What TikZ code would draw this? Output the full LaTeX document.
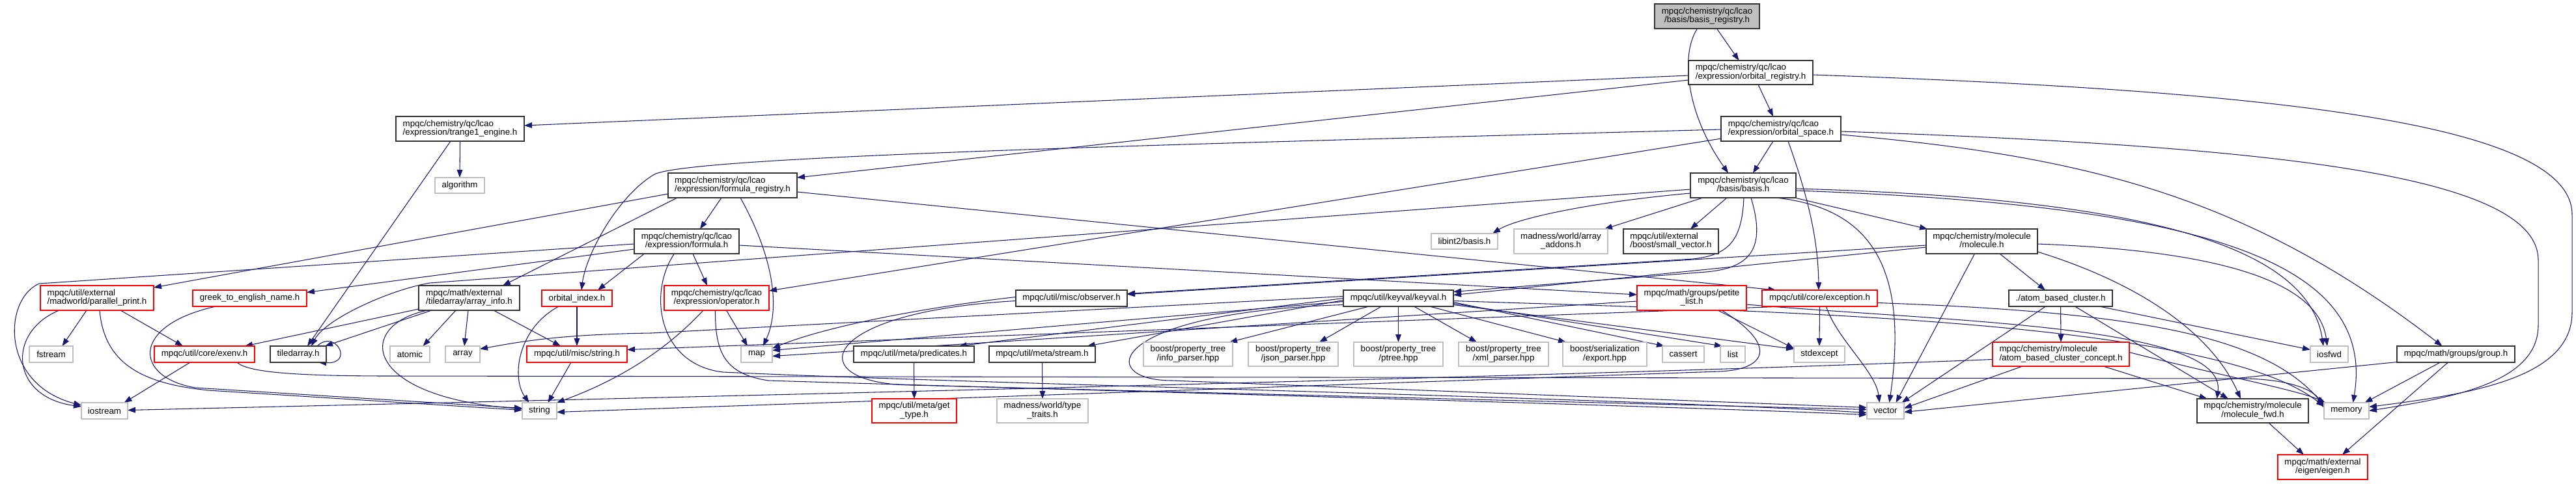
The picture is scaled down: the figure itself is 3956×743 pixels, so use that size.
\documentclass[tikz,border=0pt]{standalone}
\usepackage{fontspec}
\setmainfont{Liberation Sans}
\usetikzlibrary{arrows.meta,calc}
\definecolor{eblue}{HTML}{191970}
\pgfdeclarelayer{bg}
\pgfsetlayers{bg,main}
\newcommand\twol[2]{\begin{tabular}{@{}l@{}}#1\\\multicolumn{1}{@{}c@{}}{#2}\end{tabular}}
\newcommand\gnode[7]{\node[#6, minimum width={(#4-#2)*0.75pt}, minimum height={(#5-#3)*0.75pt}] (#1) at ({(#2+#4)/2},{(#3+#5)/2}) {#7};}
\tikzset{
  nbase/.style={draw, rectangle, inner sep=0pt, outer sep=0pt, fill=white, line width=0.9pt, font=\fontsize{10}{9}\selectfont, text=black},
  nb/.style={nbase, draw=black!80},
  nr/.style={nbase, draw=red},
  ng/.style={nbase, draw=black!25},
  nroot/.style={nbase, draw=black!80, fill=black!25},
  e/.style={draw=eblue, line width=0.8pt, -{Triangle[length=9pt,width=6.5pt]}}
}
\begin{document}
\begin{tikzpicture}[x=0.75pt,y=-0.75pt]
\useasboundingbox (0,0) rectangle (3956,743);
% ---------- nodes ----------
\gnode{BR}{2541}{6}{2702}{44}{nroot}{\twol{mpqc/chemistry/qc/lcao}{/basis/basis\_registry.h}}
\gnode{OR}{2593}{93}{2784}{130}{nb}{\twol{mpqc/chemistry/qc/lcao}{/expression/orbital\_registry.h}}
\gnode{T}{608}{179}{805}{217}{nb}{\twol{mpqc/chemistry/qc/lcao}{/expression/trange1\_engine.h}}
\gnode{OS}{2643}{179}{2827}{217}{nb}{\twol{mpqc/chemistry/qc/lcao}{/expression/orbital\_space.h}}
\gnode{ALG}{668}{273}{744}{297}{ng}{algorithm}
\gnode{FR}{1026}{266}{1224}{304}{nb}{\twol{mpqc/chemistry/qc/lcao}{/expression/formula\_registry.h}}
\gnode{B}{2596}{266}{2758}{304}{nb}{\twol{mpqc/chemistry/qc/lcao}{/basis/basis.h}}
\gnode{F}{974}{352}{1135}{390}{nb}{\twol{mpqc/chemistry/qc/lcao}{/expression/formula.h}}
\gnode{LIB}{2198}{359}{2300}{383}{ng}{libint2/basis.h}
\gnode{MAA}{2325}{352}{2469}{390}{ng}{\twol{madness/world/array}{\_addons.h}}
\gnode{SV}{2493}{352}{2639}{390}{nb}{\twol{mpqc/util/external}{/boost/small\_vector.h}}
\gnode{MOL}{2958}{352}{3129}{390}{nb}{\twol{mpqc/chemistry/molecule}{/molecule.h}}
\gnode{PP}{62}{439}{236}{477}{nr}{\twol{mpqc/util/external}{/madworld/parallel\_print.h}}
\gnode{GR}{296}{446}{471}{471}{nr}{greek\_to\_english\_name.h}
\gnode{AI}{643}{439}{798}{477}{nb}{\twol{mpqc/math/external}{/tiledarray/array\_info.h}}
\gnode{OI}{832}{446}{940}{471}{nr}{orbital\_index.h}
\gnode{OP}{1020}{439}{1181}{477}{nr}{\twol{mpqc/chemistry/qc/lcao}{/expression/operator.h}}
\gnode{OBS}{1560}{446}{1731}{471}{nb}{mpqc/util/misc/observer.h}
\gnode{KV}{2063}{446}{2232}{471}{nb}{mpqc/util/keyval/keyval.h}
\gnode{PL}{2514}{439}{2682}{477}{nr}{\twol{mpqc/math/groups/petite}{\_list.h}}
\gnode{EX}{2706}{446}{2883}{471}{nr}{mpqc/util/core/exception.h}
\gnode{ABC}{3085}{446}{3244}{471}{nb}{./atom\_based\_cluster.h}
\gnode{FS}{45}{532}{112}{557}{ng}{fstream}
\gnode{EXENV}{237}{532}{391}{557}{nr}{mpqc/util/core/exenv.h}
\gnode{TA}{415}{532}{501}{557}{nb}{tiledarray.h}
\gnode{ATOM}{599}{532}{660}{557}{ng}{atomic}
\gnode{ARR}{684}{532}{737}{557}{ng}{array}
\gnode{STR}{809}{532}{963}{557}{nr}{mpqc/util/misc/string.h}
\gnode{MAP}{1138}{532}{1186}{557}{ng}{map}
\gnode{PRED}{1311}{532}{1496}{557}{nb}{mpqc/util/meta/predicates.h}
\gnode{STRM}{1519}{532}{1682}{557}{nb}{mpqc/util/meta/stream.h}
\gnode{INFO}{1756}{526}{1893}{563}{ng}{\twol{boost/property\_tree}{/info\_parser.hpp}}
\gnode{JSON}{1917}{526}{2055}{563}{ng}{\twol{boost/property\_tree}{/json\_parser.hpp}}
\gnode{PTREE}{2079}{526}{2216}{563}{ng}{\twol{boost/property\_tree}{/ptree.hpp}}
\gnode{XML}{2240}{526}{2378}{563}{ng}{\twol{boost/property\_tree}{/xml\_parser.hpp}}
\gnode{SER}{2400}{526}{2529}{563}{ng}{\twol{boost/serialization}{/export.hpp}}
\gnode{CAS}{2553}{532}{2617}{557}{ng}{cassert}
\gnode{LIST}{2642}{532}{2680}{557}{ng}{list}
\gnode{STDX}{2755}{532}{2833}{557}{ng}{stdexcept}
\gnode{ABCC}{3060}{526}{3270}{563}{nr}{\twol{mpqc/chemistry/molecule}{/atom\_based\_cluster\_concept.h}}
\gnode{IOSFWD}{3548}{532}{3606}{557}{ng}{iosfwd}
\gnode{GRP}{3681}{532}{3862}{557}{nb}{mpqc/math/groups/group.h}
\gnode{IOS}{125}{619}{196}{644}{ng}{iostream}
\gnode{STRING}{802}{619}{855}{644}{ng}{string}
\gnode{GET}{1339}{613}{1469}{650}{nr}{\twol{mpqc/util/meta/get}{\_type.h}}
\gnode{MTT}{1531}{613}{1671}{650}{ng}{\twol{madness/world/type}{\_traits.h}}
\gnode{VEC}{2867}{619}{2924}{644}{ng}{vector}
\gnode{MFWD}{3374}{613}{3545}{650}{nb}{\twol{mpqc/chemistry/molecule}{/molecule\_fwd.h}}
\gnode{MEM}{3569}{619}{3638}{644}{ng}{memory}
\gnode{EIG}{3498}{699}{3636}{737}{nr}{\twol{mpqc/math/external}{/eigen/eigen.h}}
% ---------- edges ----------
\begin{pgfonlayer}{bg}
\fill[white] (0,0) rectangle (3956,743);
% basis_registry
\draw[e] ($(BR.south)+(15,0)$) -- ($(OR.north)+(-18,0)$);
\draw[e] ($(BR.south)+(-15,0)$) .. controls (2580,85) and (2590,175) .. ($(B.north)+(-23,0)$);
% orbital_registry
\draw[e] ($(OR.west)+(0,4.5)$) -- ($(T.east)+(0,-5)$);
\draw[e] ($(OR.west)+(0,11.5)$) -- ($(FR.east)+(0,-12)$);
\draw[e] ($(OR.south)+(11.5,0)$) -- ($(OS.north)+(-12,0)$);
\draw[e] ($(OR.east)+(0,3.5)$) .. controls (3500,140) and (3950,190) .. (3950,330) -- (3950,480) .. controls (3950,580) and (3800,605) .. ($(MEM.east)+(0,-6)$);
% trange1
\draw[e] (T.south) -- (ALG.north);
\draw[e] ($(T.south)+(-14.5,0)$) -- ($(TA.north)+(14,0)$);
% orbital_space
\draw[e] ($(OS.south)+(-12,0)$) -- ($(B.north)+(15,0)$);
\draw[e] ($(OS.west)+(0,1)$) .. controls (1800,222) and (1060,240) .. (1005,268) .. controls (950,300) and (900,390) .. ($(OI.north)+(7,0)$);
\draw[e] ($(OS.west)+(0,15)$) -- ($(OP.east)+(0,-11)$);
\draw[e] ($(OS.south)+(11,0)$) .. controls (2772,290) and (2792,360) .. ($(EX.north)+(-1.5,0)$);
\draw[e] ($(OS.east)+(0,4)$) .. controls (3500,225) and (3898,270) .. (3898,400) -- (3898,500) .. controls (3898,590) and (3760,612) .. (MEM.east);
\draw[e] ($(OS.east)+(0,9)$) .. controls (3200,240) and (3450,300) .. ($(GRP.north)+(-21,0)$);
% basis.h
\draw[e] ($(B.west)+(0,6)$) -- (660,435) .. controls (600,445) and (500,490) .. ($(TA.north)+(20,0)$);
\draw[e] ($(B.west)+(0,12)$) .. controls (2450,310) and (2330,335) .. ($(LIB.north east)+(-8,0)$);
\draw[e] ($(B.south)+(-62,0)$) -- ($(MAA.north east)+(-5,0)$);
\draw[e] ($(B.south)+(-25,0)$) -- ($(SV.north)+(30,0)$);
\draw[e] ($(B.south)+(1,0)$) .. controls (2675,370) and (2655,392) .. (2600,398) -- ($(OBS.east)+(0,-7)$);
\draw[e] ($(B.south)+(12,0)$) .. controls (2712,380) and (2690,412) .. (2620,418) -- ($(KV.east)+(0,-10)$);
\draw[e] ($(B.south)+(50,0)$) .. controls (2880,320) and (2930,420) .. ($(VEC.north)+(6,0)$);
\draw[e] ($(B.south east)+(-2,0)$) -- ($(MOL.north west)+(2,0)$);
\draw[e] ($(B.east)+(0,5)$) .. controls (3300,305) and (3545,380) .. ($(IOSFWD.north)+(-9,0)$);
\draw[e] ($(B.east)+(0,8)$) .. controls (3380,315) and (3650,400) .. ($(MEM.north)+(10,0)$);
% molecule.h
\draw[e] ($(MOL.south)+(27.5,0)$) -- ($(ABC.north)+(-23.5,0)$);
\draw[e] ($(MOL.south east)+(0,-3)$) .. controls (3300,440) and (3400,520) .. ($(MFWD.north)+(-18.5,0)$);
\draw[e] ($(MOL.east)+(0,4)$) .. controls (3400,385) and (3560,430) .. ($(IOSFWD.north)+(-3,0)$);
\draw[e] ($(MOL.south)+(-11,0)$) -- ($(VEC.north)+(16,0)$);
\draw[e] ($(MOL.west)+(0,9)$) -- ($(KV.east)+(0,-5)$);
\draw[e] ($(MOL.west)+(0,6)$) -- ($(OBS.east)+(0,-6)$);
% atom_based_cluster
\draw[e] (ABC.south) -- (ABCC.north);
\draw[e] ($(ABC.south)+(22,0)$) -- ($(MFWD.north)+(-37.5,0)$);
\draw[e] ($(ABC.south east)+(-20,0)$) -- ($(IOSFWD.west)+(0,-7)$);
\draw[e] ($(ABC.south)+(-23,0)$) -- ($(VEC.north)+(25,0)$);
% atom_based_cluster_concept
\draw[e] ($(ABCC.south)+(65,0)$) -- ($(MFWD.north)+(-70,0)$);
\draw[e] ($(ABCC.east)+(0,-3)$) .. controls (3400,575) and (3530,600) .. ($(MEM.north west)+(2,0)$);
\draw[e] ($(ABCC.south)+(-59,0)$) -- ($(VEC.east)+(0,-4)$);
\draw[e] ($(ABCC.west)+(0,8)$) .. controls (2500,575) and (1500,600) .. ($(IOS.east)+(0,-1)$);
% group.h
\draw[e] ($(GRP.west)+(0,12)$) -- ($(VEC.east)+(0,2)$);
\draw[e] ($(GRP.south)+(-24,0)$) -- ($(MEM.north)+(28,0)$);
\draw[e] ($(GRP.south)+(-12,0)$) -- ($(EIG.north)+(30,0)$);
\draw[e] ($(MFWD.south)+(24.5,0)$) -- ($(EIG.north)+(-29,0)$);
% exception.h
\draw[e] (EX.south) -- (STDX.north);
\draw[e] ($(EX.south)+(10,0)$) .. controls (2820,520) and (2880,570) .. ($(VEC.north)+(-9,0)$);
\draw[e] ($(EX.east)+(0,7)$) .. controls (3300,480) and (3480,520) .. ($(MEM.north west)+(0,4)$);
\draw[e] ($(EX.south)+(-55,0)$) -- ($(STR.east)+(0,-7)$);
% keyval.h
\draw[e] ($(KV.south)+(-45,0)$) -- ($(INFO.north east)+(-5,0)$);
\draw[e] ($(KV.south)+(-26,0)$) -- ($(JSON.north)+(40,0)$);
\draw[e] (KV.south) -- (PTREE.north);
\draw[e] ($(KV.south)+(24,0)$) -- ($(XML.north)+(-41,0)$);
\draw[e] ($(KV.south)+(48,0)$) -- ($(SER.north west)+(5,0)$);
\draw[e] ($(KV.east)+(0,6)$) -- ($(CAS.north west)+(3,0)$);
\draw[e] ($(KV.east)+(0,8)$) -- ($(LIST.north west)+(3,0)$);
\draw[e] ($(KV.east)+(0,10)$) -- ($(STDX.west)+(0,-8)$);
\draw[e] ($(KV.east)+(0,4)$) .. controls (2700,478) and (3400,490) .. ($(MEM.north west)+(0,6)$);
\draw[e] (KV.west) -- ($(PRED.north)+(69,0)$);
\draw[e] ($(KV.west)+(0,3)$) -- ($(STRM.north)+(69,0)$);
\draw[e] ($(KV.west)+(0,5)$) -- ($(MAP.east)+(0,-6)$);
\draw[e] ($(KV.west)+(0,-3)$) -- (1000,512) .. controls (860,514) and (800,525) .. ($(ARR.east)+(0,-8)$);
\draw[e] ($(KV.west)+(0,10)$) .. controls (1700,480) and (1680,585) .. (1800,585) -- ($(VEC.west)+(0,-5)$);
% petite_list
\draw[e] ($(PL.south)+(40,0)$) -- ($(STDX.west)+(0,-9)$);
\draw[e] ($(PL.south)+(46,0)$) .. controls (2730,530) and (2715,568) .. (2640,571) -- ($(STRING.east)+(0,2)$);
\draw[e] ($(PL.west)+(0,5)$) -- ($(MAP.east)+(0,3)$);
\draw[e] ($(PL.east)+(0,10)$) .. controls (3000,495) and (3420,500) .. ($(MFWD.north)+(-55,0)$);
% formula_registry
\draw[e] ($(FR.south)+(-17,0)$) -- ($(F.north)+(20.5,0)$);
\draw[e] ($(FR.south)+(12,0)$) .. controls (1185,390) and (1200,470) .. ($(MAP.north)+(10,0)$);
\draw[e] ($(FR.west)+(0,13)$) -- ($(PP.east)+(0,-16)$);
\draw[e] ($(FR.south)+(-85,0)$) -- ($(AI.north)+(51.5,0)$);
\draw[e] ($(FR.east)+(0,10)$) -- ($(EX.north)+(-67,0)$);
% formula.h
\draw[e] ($(F.south)+(-65,0)$) -- ($(OI.north)+(32,0)$);
\draw[e] ($(F.south)+(9.5,0)$) -- ($(OP.north)+(-14.5,0)$);
\draw[e] ($(F.west)+(0,12)$) -- ($(GR.east)+(0,-9)$);
\draw[e] ($(F.west)+(0,4)$) -- (60,436) .. controls (5,460) and (0,590) .. ($(IOS.north west)+(0,4)$);
\draw[e] ($(F.east)+(0,6)$) -- ($(PL.west)+(0,-5)$);
\draw[e] ($(F.south)+(-19,0)$) .. controls (995,450) and (1010,560) .. (1110,572) .. controls (1500,590) and (2500,612) .. ($(VEC.west)+(0,3)$);
% operator.h
\draw[e] ($(OP.south)+(15,0)$) -- ($(MAP.north)+(-14,0)$);
\draw[e] ($(OP.south)+(-20.5,0)$) .. controls (1040,520) and (975,575) .. (STRING.north east);
\draw[e] ($(OP.south)+(-2,0)$) .. controls (1098,545) and (1115,575) .. (1180,585) .. controls (1600,598) and (2500,622) .. ($(VEC.west)+(0,6)$);
% array_info.h
\draw[e] ($(AI.south west)+(0,-2)$) -- ($(EXENV.north)+(62,0)$);
\draw[e] ($(AI.south)+(-57.5,0)$) -- ($(TA.north east)+(-2,0)$);
\draw[e] ($(AI.south)+(-20.5,0)$) -- ($(ATOM.north)+(20,0)$);
\draw[e] ($(AI.south)+(-1.5,0)$) -- ($(ARR.north)+(2.5,0)$);
\draw[e] ($(AI.south)+(37.5,0)$) -- ($(STR.north)+(-25,0)$);
\draw[e] ($(AI.south)+(-64,0)$) .. controls (545,500) and (555,610) .. ($(STRING.west)+(0,-3)$);
% orbital_index.h, string.h
\draw[e] ($(OI.south)+(-28,0)$) .. controls (795,505) and (785,580) .. ($(STRING.north)+(-16,0)$);
\draw[e] (OI.south) -- (STR.north);
\draw[e] ($(STR.south)+(-9,0)$) -- ($(STRING.north)+(13,0)$);
% parallel_print.h
\draw[e] ($(PP.south)+(-16,0)$) -- ($(FS.north)+(17,0)$);
\draw[e] ($(PP.south)+(36,0)$) -- ($(EXENV.north)+(-33,0)$);
\draw[e] ($(PP.south)+(-58,0)$) .. controls (10,510) and (15,610) .. ($(IOS.north west)+(0,6)$);
\draw[e] ($(PP.south)+(4,0)$) .. controls (160,560) and (220,590) .. (320,600) -- ($(STRING.west)+(0,-1)$);
% greek_to_english_name.h
\draw[e] ($(GR.south)+(-52,0)$) .. controls (200,500) and (205,580) .. (300,596) -- ($(STRING.west)+(0,-4)$);
% exenv.h
\draw[e] ($(EXENV.south)+(-22,0)$) -- ($(IOS.north)+(30,0)$);
\draw[e] ($(EXENV.south)+(50,0)$) .. controls (380,572) and (450,578) .. (600,578) -- (3450,582) .. controls (3520,584) and (3555,600) .. ($(MEM.north west)+(0,8)$);
% tiledarray.h self loop
\draw[e] ($(TA.north east)+(-14,0)$) .. controls (515,505) and (545,560) .. ($(TA.south east)+(-12,0)$);
% observer.h
\draw[e] ($(OBS.west)+(0,-2)$) .. controls (1400,475) and (1260,505) .. ($(MAP.east)+(0,-9)$);
\draw[e] ($(OBS.west)+(0,4)$) .. controls (1250,480) and (1230,590) .. (1400,592) -- ($(VEC.west)+(0,-2)$);
% meta
\draw[e] (PRED.south) -- (GET.north);
\draw[e] (STRM.south) -- (MTT.north);
\end{pgfonlayer}
\end{tikzpicture}
\end{document}
